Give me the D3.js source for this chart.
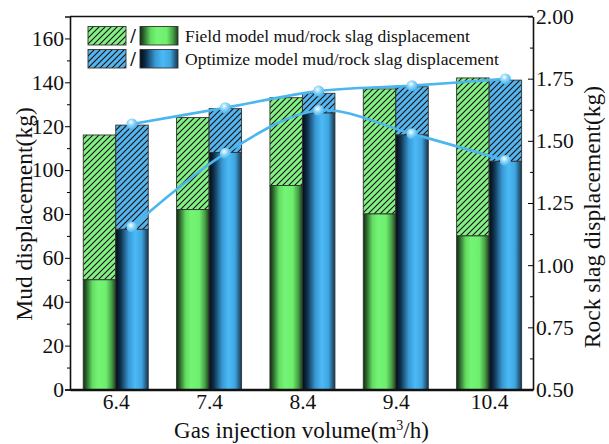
<!DOCTYPE html>
<html>
<head>
<meta charset="utf-8">
<script src="https://cdn.jsdelivr.net/npm/d3@7"></script>
<style>
  body { margin: 0; background: #fff; }
  svg text { font-family: "Liberation Serif", "Times New Roman", serif !important; fill: #111; }
</style>
</head>
<body>
<script>
/* Define data. */
const gasVolume = [6.4, 7.4, 8.4, 9.4, 10.4]
const fieldSolid = [50, 82, 93, 80, 70]
const fieldTotal = [116, 124, 133, 137, 142]
const optSolid = [73, 108, 126, 116, 104]
const optTotal = [120.5, 128, 135, 138, 141]
const slagUpper = [1.568, 1.633, 1.70, 1.722, 1.749]
const slagLower = [1.153, 1.45, 1.622, 1.528, 1.421]
const leftTicks = [0, 20, 40, 60, 80, 100, 120, 140, 160]
const rightTicks = [0.5, 0.75, 1.0, 1.25, 1.5, 1.75, 2.0]
const legendLabels = ["Field model mud/rock slag displacement", "Optimize model mud/rock slag displacement"]

/* Define svg-size. */
const width = 609
const height = 444
const plotLeft = 70
const plotRight = 533
const plotTop = 16.5
const plotBottom = 389.5
const barWidth = 32.5
const serif = "'Liberation Serif', 'Times New Roman', serif"

/* Create svg-element. */
const svg = d3.select("body")
  .append("svg")
  .attr("width", width)
  .attr("height", height)
  .attr("font-family", serif)

const defs = svg.append("defs")

/* Define gradients and hatches. */
const addGradient = (id, stops) => {
  const gr = defs.append("linearGradient").attr("id", id)
    .attr("x1", "0%").attr("x2", "100%").attr("y1", "0%").attr("y2", "0%")
  stops.forEach(s => gr.append("stop").attr("offset", s[0]).attr("stop-color", s[1]))
}
addGradient("greenGrad", [["0%", "#122a12"], ["10%", "#2c662c"], ["28%", "#62dc62"], ["45%", "#74f474"], ["70%", "#6eef6e"], ["88%", "#449944"], ["100%", "#1a401a"]])
addGradient("blueGrad", [["0%", "#030a13"], ["15%", "#0e304b"], ["40%", "#3898d4"], ["60%", "#4bbaf6"], ["80%", "#3fa5de"], ["100%", "#153652"]])

const addHatch = (id, color) => {
  const p = defs.append("pattern").attr("id", id)
    .attr("patternUnits", "userSpaceOnUse")
    .attr("width", 6).attr("height", 6)
  p.append("rect").attr("width", 6).attr("height", 6).attr("fill", color)
  p.append("path")
    .attr("d", "M-1,1 L1,-1 M0,6 L6,0 M5,7 L7,5")
    .attr("stroke", "#111").attr("stroke-width", 1.1)
}
addHatch("greenHatch", "#84f184")
addHatch("blueHatch", "#55b6ef")

const marker = defs.append("radialGradient").attr("id", "markerGrad")
  .attr("cx", "40%").attr("cy", "35%").attr("r", "65%")
marker.append("stop").attr("offset", "0%").attr("stop-color", "#ffffff")
marker.append("stop").attr("offset", "45%").attr("stop-color", "#8fd6fa")
marker.append("stop").attr("offset", "100%").attr("stop-color", "#45b2ee")

/* Define scales. */
const x = d3.scaleLinear().domain([5.91, 10.87]).range([plotLeft, plotRight])
const yL = d3.scaleLinear().domain([0, 170]).range([plotBottom, plotTop])
const yR = d3.scaleLinear().domain([0.5, 2.0]).range([plotBottom, plotTop])

/* Draw bars. */
const g = svg.append("g")
const drawBars = (solid, total, offset, grad, hatch) => {
  g.selectAll(null).data(gasVolume).enter().append("rect")
    .attr("x", d => x(d) + offset)
    .attr("y", (d, i) => yL(total[i]))
    .attr("width", barWidth)
    .attr("height", (d, i) => yL(solid[i]) - yL(total[i]))
    .attr("fill", `url(#${hatch})`)
    .attr("stroke", "#333").attr("stroke-width", 0.9)
  g.selectAll(null).data(gasVolume).enter().append("rect")
    .attr("x", d => x(d) + offset)
    .attr("y", (d, i) => yL(solid[i]))
    .attr("width", barWidth)
    .attr("height", (d, i) => yL(0) - yL(solid[i]))
    .attr("fill", `url(#${grad})`)
    .attr("stroke", "#333").attr("stroke-width", 0.9)
}
drawBars(fieldSolid, fieldTotal, -barWidth, "greenGrad", "greenHatch")
drawBars(optSolid, optTotal, 0, "blueGrad", "blueHatch")

/* Draw lines. */
const line = d3.line()
  .x((d, i) => x(gasVolume[i]) + barWidth / 2)
  .y(d => yR(d))
  .curve(d3.curveCatmullRom.alpha(0.5))

;[slagUpper, slagLower].forEach(series => {
  g.append("path")
    .attr("d", line(series))
    .attr("fill", "none")
    .attr("stroke", "#4cb6ef")
    .attr("stroke-width", 2.6)
  g.selectAll(null).data(series).enter().append("circle")
    .attr("cx", (d, i) => x(gasVolume[i]) + barWidth / 2)
    .attr("cy", d => yR(d))
    .attr("r", 5.5)
    .attr("fill", "url(#markerGrad)")
})

/* Draw axes. */
const styleAxis = (sel) => {
  sel.attr("font-family", serif)
  sel.selectAll("text").style("font-size", "21.5px").attr("font-family", serif)
}

const leftAxis = svg.append("g")
  .attr("transform", `translate(${plotLeft},0)`)
  .call(d3.axisLeft(yL).tickValues(leftTicks).tickSize(5).tickPadding(1))
styleAxis(leftAxis)
svg.append("g")
  .attr("transform", `translate(${plotLeft},0)`)
  .call(d3.axisLeft(yL).tickValues(d3.range(10, 170, 20)).tickSize(3).tickFormat(""))
  .select(".domain").remove()

const rightAxis = svg.append("g")
  .attr("transform", `translate(${plotRight},0)`)
  .call(d3.axisRight(yR).tickValues(rightTicks).tickSizeInner(-5).tickSizeOuter(0).tickPadding(3).tickFormat(d3.format(".2f")))
styleAxis(rightAxis)
svg.append("g")
  .attr("transform", `translate(${plotRight},0)`)
  .call(d3.axisRight(yR).tickValues(d3.range(0.625, 2.0, 0.25)).tickSizeInner(-3).tickSizeOuter(0).tickFormat(""))
  .select(".domain").remove()

const bottomAxis = svg.append("g")
  .attr("transform", `translate(0,${plotBottom})`)
  .call(d3.axisBottom(x).tickValues(gasVolume).tickSize(0).tickPadding(4).tickFormat(d3.format(".1f")))
styleAxis(bottomAxis)
bottomAxis.select(".domain").attr("stroke-width", 2.6)

svg.selectAll(".domain").attr("stroke", "#111")
leftAxis.select(".domain").attr("stroke-width", 1.6)
rightAxis.select(".domain").attr("stroke-width", 1.6)

/* Draw top frame. */
svg.append("line")
  .attr("x1", plotLeft).attr("x2", plotRight)
  .attr("y1", plotTop).attr("y2", plotTop)
  .attr("stroke", "#111").attr("stroke-width", 1.6)

/* Axis titles. */
svg.append("text")
  .attr("transform", `translate(32,${(plotTop + plotBottom) / 2 + 11}) rotate(-90)`)
  .attr("text-anchor", "middle")
  .style("font-size", "23.5px")
  .text("Mud displacement(kg)")

svg.append("text")
  .attr("transform", `translate(600,${(plotTop + plotBottom) / 2 + 14}) rotate(-90)`)
  .attr("text-anchor", "middle")
  .style("font-size", "23.5px")
  .text("Rock slag displacement(kg)")

const xTitle = svg.append("text")
  .attr("x", (plotLeft + plotRight) / 2)
  .attr("y", 438)
  .attr("text-anchor", "middle")
  .style("font-size", "23px")
xTitle.append("tspan").text("Gas injection volume(m")
xTitle.append("tspan").attr("dy", -8).style("font-size", "14px").text("3")
xTitle.append("tspan").attr("dy", 8).text("/h)")

/* Draw legend. */
const legend = svg.append("g")
const legendRows = [["greenHatch", "greenGrad"], ["blueHatch", "blueGrad"]]
legendRows.forEach((r, i) => {
  const y0 = 26.5 + i * 23
  legend.append("rect").attr("x", 88).attr("y", y0).attr("width", 38).attr("height", 18.5)
    .attr("fill", `url(#${r[0]})`).attr("stroke", "#333").attr("stroke-width", 0.9)
  legend.append("text").attr("x", 133).attr("y", y0 + 16).attr("text-anchor", "middle")
    .style("font-size", "20px").style("font-weight", "bold").text("/")
  legend.append("rect").attr("x", 140).attr("y", y0).attr("width", 38).attr("height", 18.5)
    .attr("fill", `url(#${r[1]})`).attr("stroke", "#333").attr("stroke-width", 0.9)
  legend.append("text").attr("x", 185).attr("y", y0 + 15)
    .style("font-size", "17.5px").text(legendLabels[i])
})
</script>
</body>
</html>
